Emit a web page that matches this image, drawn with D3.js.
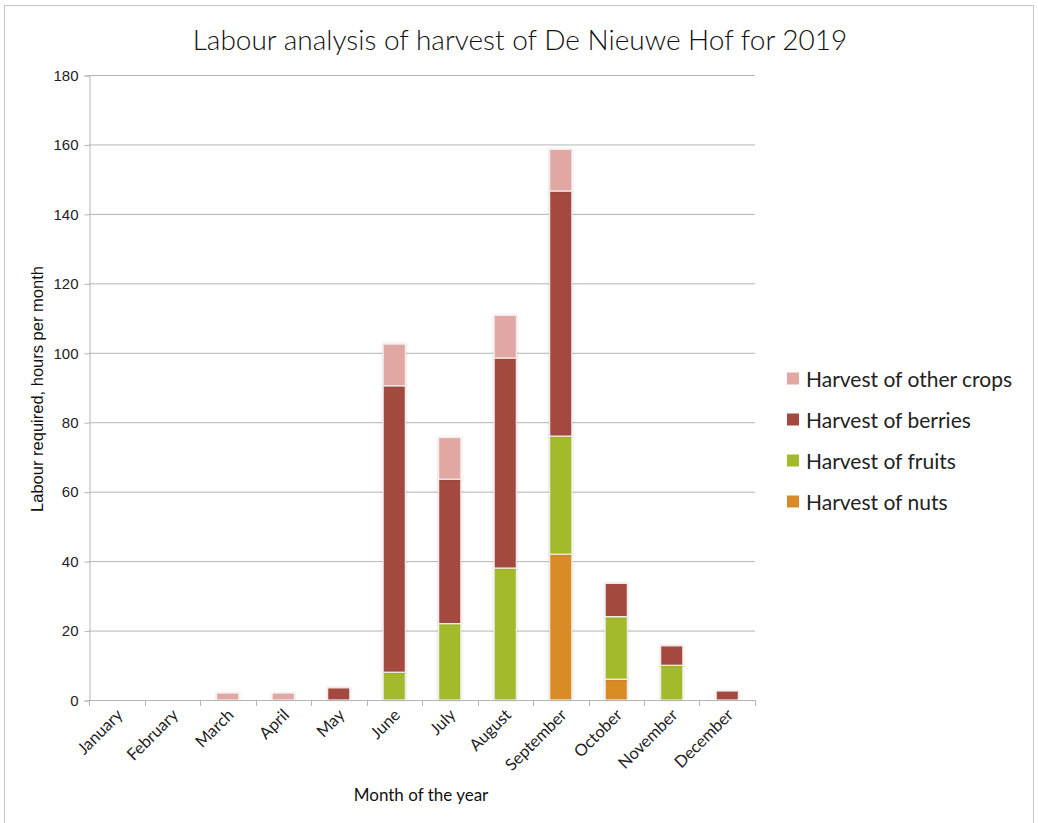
<!DOCTYPE html>
<html><head><meta charset="utf-8">
<script src="https://cdn.jsdelivr.net/npm/d3@7"></script>
<style>body{margin:0;background:#fff}svg{display:block}</style>
</head><body>
<svg id="c" width="1038" height="823"></svg>
<script>
const months = ["January","February","March","April","May","June","July","August","September","October","November","December"];
const seriesNames = ["Harvest of nuts","Harvest of fruits","Harvest of berries","Harvest of other crops"];
const nuts   = [0,0,0,0,0,0,0,0,42,6,0,0];
const fruits = [0,0,0,0,0,8,22,38,34,18,10,0];
const berries= [0,0,0,0,3.5,82.5,41.6,60.5,70.6,9.6,5.6,2.6];
const other  = [0,0,2,2,0,12,12,12.3,12,0,0,0];
const colors = ["#D98B27","#A3BA2A","#A34A40","#E0A7A3"];
const yTicks = [0,20,40,60,80,100,120,140,160,180];

const svg = d3.select("#c");
svg.append("rect").attr("x",4.5).attr("y",5.5).attr("width",1029).attr("height",830)
  .attr("fill","#fff").attr("stroke","#c8c8c8");

const defs = svg.append("defs");
const f = defs.append("filter").attr("id","sh").attr("x","-30%").attr("y","-10%").attr("width","160%").attr("height","120%");
f.append("feDropShadow").attr("dx",0).attr("dy",0).attr("stdDeviation",1.2).attr("flood-color","#000").attr("flood-opacity",0.18);

const x = d3.scaleBand().domain(months).range([89,755]).paddingInner(0.6).paddingOuter(0.3);
const y = d3.scaleLinear().domain([0,180]).range([700,75]);

// grid
svg.append("g").selectAll("line").data(yTicks.slice(1)).join("line")
  .attr("x1",89).attr("x2",755).attr("y1",d=>y(d)+0.5).attr("y2",d=>y(d)+0.5)
  .attr("stroke","#b4b4b4").attr("stroke-width",1);

// y axis
const ya = svg.append("g").attr("transform","translate(89.5,0.5)")
  .call(d3.axisLeft(y).tickValues(yTicks).tickSize(5).tickPadding(6));
ya.select(".domain").attr("stroke","#b4b4b4");
ya.selectAll(".tick line").attr("stroke","#b4b4b4");
ya.selectAll("text").attr("font-family","Liberation Sans, Arial, sans-serif").attr("font-size",15).attr("fill","#222");

// bars
const data = months.map((m,i)=>({month:m, nuts:nuts[i], fruits:fruits[i], berries:berries[i], other:other[i]}));
const stack = d3.stack().keys(["nuts","fruits","berries","other"]);
const st = stack(data);
svg.append("g").selectAll("g").data(st).join("g").attr("fill",(d,i)=>colors[i])
  .selectAll("rect").data(d=>d.filter(e=>e[1]-e[0]>0)).join("rect")
  .attr("x",d=>x(d.data.month)).attr("width",x.bandwidth())
  .attr("y",d=>y(d[1])).attr("height",d=>y(d[0])-y(d[1]))
  .attr("stroke","#f4eeee").attr("stroke-width",1.2).attr("filter","url(#sh)");

// x axis
const xBound = d3.scaleLinear().domain([0,12]).range([89,755]);
const xa = svg.append("g");
xa.append("line").attr("x1",89).attr("x2",755).attr("y1",700.5).attr("y2",700.5).attr("stroke","#b4b4b4");
xa.selectAll("line.t").data(d3.range(13)).join("line").attr("class","t")
  .attr("x1",d=>Math.round(xBound(d))+0.5).attr("x2",d=>Math.round(xBound(d))+0.5)
  .attr("y1",700).attr("y2",706).attr("stroke","#b4b4b4");
xa.selectAll("text").data(months).join("text")
  .attr("transform",d=>`translate(${x(d)+x.bandwidth()/2+7},${716}) rotate(-45)`)
  .attr("text-anchor","end").attr("font-family","Lato, sans-serif").attr("font-size",16.5).attr("fill","#222")
  .text(d=>d);

// titles
svg.append("text").attr("x",520).attr("y",50).attr("text-anchor","middle")
  .attr("font-family","Lato, sans-serif").attr("font-weight",300).attr("font-size",28).attr("fill","#111")
  .text("Labour analysis of harvest of De Nieuwe Hof for 2019");
svg.append("text").attr("x",421).attr("y",801).attr("text-anchor","middle")
  .attr("font-family","Lato, sans-serif").attr("font-size",17).attr("fill","#111")
  .text("Month of the year");
svg.append("text").attr("transform","translate(43,389) rotate(-90)").attr("text-anchor","middle")
  .attr("font-family","Liberation Sans, Arial, sans-serif").attr("font-size",16.5).attr("fill","#111")
  .text("Labour required, hours per month");

// legend
const legOrder = [3,2,1,0];
const lg = svg.append("g").selectAll("g").data(legOrder).join("g")
  .attr("transform",(d,i)=>`translate(787,${379+i*41})`);
lg.append("rect").attr("x",0).attr("y",-6.5).attr("width",12).attr("height",12).attr("fill",d=>colors[d]);
lg.append("text").attr("x",19).attr("y",7.5).attr("font-family","Lato, sans-serif").attr("font-size",21).attr("fill","#222")
  .text(d=>seriesNames[d]);
</script>
</body></html>
